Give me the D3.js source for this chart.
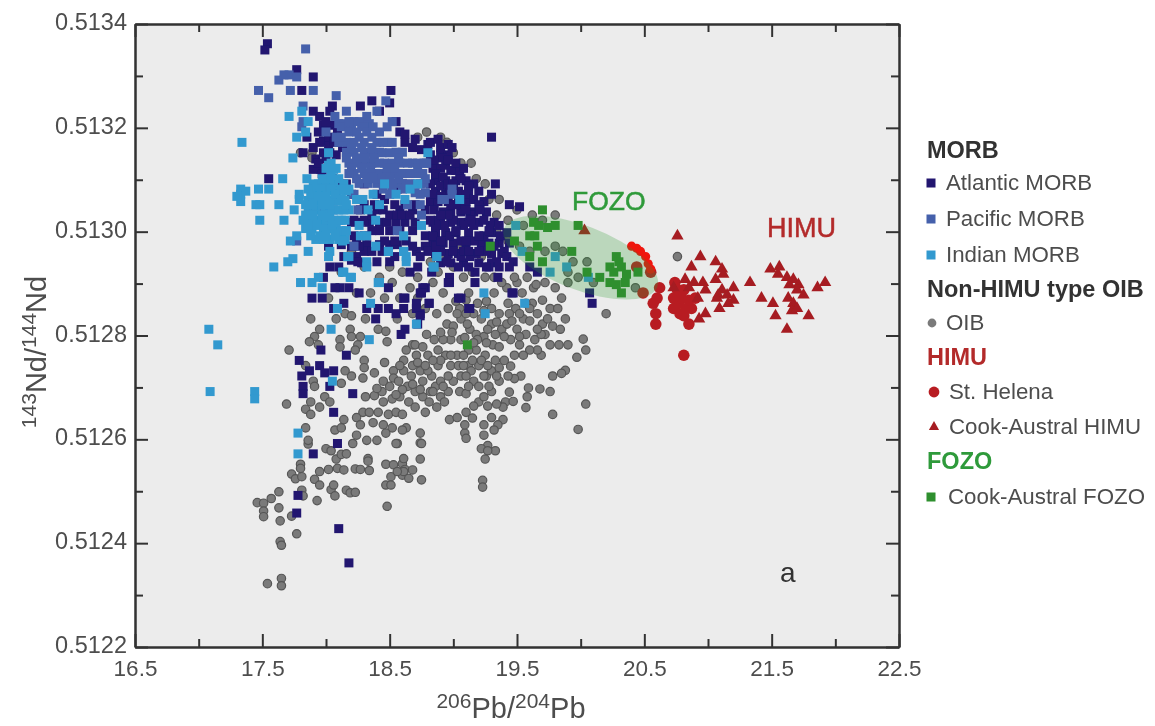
<!DOCTYPE html>
<html lang="en">

<head>
	<meta charset="UTF-8">
	<title>Pb-Nd isotope plot</title>
	<script src="https://d3js.org/d3.v7.min.js"></script>
	<style>
		body { margin: 0; background: #fff; }
		text { font-family: "Liberation Sans", Arial, sans-serif; }
	</style>
</head>

<body>
	<svg id="viz"></svg>

	<script>
		// Data as [206Pb/204Pb, 143Nd/144Nd] ---
		const oib = [
			[17.54,.512322],[17.65,.512332],[17.65,.512318],[17.64,.512443],[17.77,.512418],[17.64,.512403],[17.65,.512396],
			[17.46,.512478],[17.51,.512477],[17.51,.512462],[17.51,.512451],[17.57,.512486],[17.63,.512499],[17.63,.512468],[17.73,.512452],
			[17.81,.512502],[17.82,.512491],[17.93,.512482],[18.04,.512503],[18.07,.512491],[18.06,.512512],[18.16,.512502],[18.19,.512497],[18.23,.512498],
			[17.91,.512523],[17.95,.512512],[17.73,.512533],[17.76,.512524],[17.81,.512528],[17.8,.512552],[17.8,.512544],[17.95,.512538],
			[18.02,.512542],[18.09,.512544],[18.14,.512541],[18.23,.512543],[18.27,.512542],[18.34,.51254],[18.33,.512563],[18.08,.512562],[18.12,.512571],
			[18.47,.512552],[18.53,.512551],[18.6,.512553],[18.62,.512542],[18.51,.512528],[18.47,.512512],[18.51,.512512],[18.6,.512531],[18.68,.512541],
			[18.74,.512562],[18.75,.512522],[18.48,.512471],[18.56,.512592],[18.74,.512593],[17.86,.512591],
			[18.74,.512612],[18.61,.512563],[18.61,.512538],[18.65,.512525],[18.56,.512538],
			[20.2,.512842],[19.9,.512782],[20.02,.512793],[20.04,.512772],[19.97,.512758],[19.88,.512733],[19.85,.512727],[19.78,.512722],[19.68,.512697],
			[19.76,.512692],[20.04,.512668],[19.78,.512648],[19.98,.512619],[19.59,.512699],[19.58,.512682],[19.57,.512661],[19.69,.512762],[19.66,.512772],
			[19.53,.512722],[19.48,.512717],[19.43,.512722],[19.45,.512741],[19.44,.512691],[19.41,.512672],[19.47,.512673],[19.39,.512662],[19.39,.512638],
			[19.35,.512628],[19.32,.512618],[19.24,.512628],[19.24,.512608],[19.27,.512588],[19.22,.512582],[19.33,.512578],[19.27,.512578],[19.25,.512562],
			[19.23,.512521],[19.23,.512508],[19.09,.512612],[19.1,.512602],[18.97,.512638],[19.1,.512652],[19.03,.512642],[19.15,.512641],[19.09,.512628],
			[19.2,.512672],[19.27,.512664],[19.3,.512642],[19.34,.512668],[19.16,.512664],
			[17.88,.512832],[17.95,.512812],[17.91,.512798],[17.87,.512788],[17.94,.512782],[17.71,.512772],[17.69,.512668],
			[18.11,.512792],[18.11,.512778],[18.25,.512782],[18.23,.512772],[18.19,.512812],[18.2,.512798],[18.27,.512798],[18.31,.512832],[18.41,.512812],
			[18.47,.512808],[18.48,.512788],[18.3,.512752],[18.3,.512738],[18.29,.512718],[18.38,.512728],[18.46,.512748],[18.2,.512722],[18.12,.512708],[18.15,.512732],
			[17.84,.512658],[17.88,.512672],[17.88,.512648],[17.95,.512662],[17.99,.512682],[18.03,.512672],[17.84,.512622],[17.86,.512598],[17.84,.512742],[17.9,.512712],[17.91,.512702],
			[18.31,.512682],[18.38,.512684],[18.45,.512672],[18.41,.512652],[18.49,.512648],[18.55,.512652],[18.6,.512648],[18.29,.512652],[18.24,.512642],[18.27,.512628],
			[18.14,.512638],[18.07,.512618],[18.12,.512622],[18.24,.512608],[18.32,.512598],[18.4,.512598],[18.55,.512592],[18.63,.512622],[18.6,.512618],[18.21,.512592],
			[18,.512582],[18.04,.512578],[18.16,.512572],[18.33,.512558],[18.75,.512592],
			[18.53,.512732],[18.61,.512752],[18.53,.512718],[18.61,.512732],[18.68,.512742],[18.71,.512762],[18.8,.512762],[18.68,.512782],[18.79,.512802],[18.85,.512792],
			[18.45,.512628],[18.52,.512622],[18.47,.512612],[18.37,.512632],[18.34,.512652],[18.44,.512692],[18.5,.512702],[18.57,.512712],[18.58,.512682],[18.52,.512678],
			[18.64,.512702],[18.7,.512692],[18.65,.512672],[18.7,.512662],[18.76,.512682],[18.81,.512672],[18.76,.512712],[18.83,.512722],[18.88,.512742],[18.74,.512732],
			[18.8,.512732],[18.86,.512702],[18.9,.512682],[18.82,.512692],[18.87,.512662],[18.93,.512672],[18.7,.512782],[18.76,.512778],[18.63,.512772],[18.9,.512712],
			[18.94,.512762],[18.98,.512742],[19.03,.512762],[19,.512712],[19.06,.512722],[19.12,.512742],[18.96,.512692],[19.05,.512692],[19.1,.512688],[19.16,.512712],
			[19.24,.512682],[19.26,.512722],[19.2,.512742],[19.3,.512732],[19.36,.512712],[19.3,.512692],[19.33,.512752],[19.25,.512762],[19.18,.512772],[19.12,.512772],
			[19.06,.512792],[18.98,.512792],[18.92,.512792],[18.95,.512822],[19,.512818],[19.06,.512832],[19.13,.512812],[19.18,.512802],[19.24,.512798],[19.31,.512782],
			[19.36,.512778],[19.38,.512812],[19.3,.512822],[19.22,.512832],[19.16,.512842],[19.05,.512852],[18.96,.512852],[19.1,.512868],[19.19,.512862],[19.3,.512852],
			[19.36,.512842],[19.42,.512822],[19.45,.512792],[19.52,.512782],[19.6,.512772],[19.5,.512812],[19.57,.512802],[19.64,.512792],[19.72,.512802],[19.76,.512782],
			[19.55,.512832],[19.6,.512828],[19.7,.512822],[19.78,.512818],[19.84,.512812],[19.88,.512832],[19.62,.512862],[19.7,.512868],[19.76,.512852],[19.49,.512852],
			[19.43,.512862],[19.54,.512882],[19.63,.512892],[19.72,.512902],[19.8,.512892],[19.85,.512872],[19.42,.512892],[19.5,.512902],[19.58,.512912],[19.32,.512882],
			[19.25,.512912],[19.15,.512922],[19.08,.512912],[19,.512932],[18.92,.512882],[18.84,.512902],[18.87,.512842],[18.78,.512852],[18.68,.512842],[18.56,.512832],
			[18.58,.512872],[18.66,.512892],[18.46,.512872],[18.42,.512912],[18.35,.512882],[18.24,.512882],[18.15,.512842],[18.2,.512838],[18.08,.512832],[18.02,.512872],
			[18.52,.512902],[18.6,.512922],[18.72,.512912],[18.82,.512942],[18.92,.512952],[19.03,.512972],[19.22,.512952],[19.3,.512972],[19.34,.513002],[19.43,.512982],
			[19.52,.512972],[19.6,.512962],[19.72,.512962],[19.8,.512972],[19.86,.512962],[19.55,.513012],[19.62,.513032],[19.7,.513022],[19.8,.513032],[19.5,.513042],
			[19.43,.513022],[19.34,.513032],[19.28,.513062],[19.36,.513062],[19.25,.513092],[19.18,.513102],[19.14,.513132],[19.06,.513132],[19,.513152],[18.9,.513182],[18.95,.513172],
			[19.9,.512922],[19.98,.512912],[19.9,.512902],[20.1,.512902],[20.43,.512892],[20.05,.512942],[19.94,.512942],
			[20.76,.512952],[18.72,.513182],[18.79,.513192],[17.8,.513152],[17.89,.513152],[17.89,.513142],[18.2,.512962],[18.3,.512932],[18.12,.512922],[18.5,.512932],
			[19.03,.512842],[19.11,.512822],[19.19,.512792],[19.27,.512812],[19.33,.512802],[19.08,.512762],[19.22,.512752],[19.14,.512732],[19.04,.512742],[18.96,.512722],
			[18.88,.512772],[18.92,.512702],[18.84,.512692],[18.78,.512652],[18.67,.512722],[18.58,.512742],[18.45,.512712],[18.4,.512698],[19.4,.512752],[19.36,.512738],
			[19.2,.512702],[19.12,.512702],[19.28,.512702],[19.44,.512842],[19.52,.512842],[19.66,.512842],[19.82,.512852],[19.57,.512862],[19.69,.512802],[19.83,.512782],
			[18.99,.512806],[19.09,.512796],[19.16,.512786],[19.26,.512786],[19.02,.512866],[18.9,.512806],[19.1,.512842],[19.24,.512848],[19.34,.512826],[19.15,.512752],
			[19.27,.512742],[19.34,.512722],[19.1,.512722],[18.98,.512762],[19.08,.512742],[18.9,.512752],[18.74,.512696],[18.68,.512706],[18.6,.512696],[18.55,.512686],
			[18.72,.512748],[18.78,.512742],[18.84,.512752],[19.24,.512722],[19.4,.512798],[19.48,.512762],[19.55,.512762],[19.6,.512852],[19.46,.512828],[19.52,.512798],
			[19.66,.512812],[19.74,.512832],[19.65,.512898],[19.48,.512912],[19.38,.512902],[19.32,.512912],[19.26,.512866],[19.12,.512882],[18.88,.512922],[18.72,.512872]
		];
		const atlanticCore = [
			[17.98,.513205],[18.04,.513205],[17.98,.513175],[18.02,.513168],[17.92,.51314],[18,.51314],[17.9,.51312],[17.96,.51312],
			[18.82,.513148],[18.9,.513148],[18.96,.513148],[18.84,.513122],[18.9,.513122],[19.02,.513118],[18.86,.513098],[18.94,.513098],[19.02,.513098],[19.1,.513098],
			[18.86,.513078],[18.94,.513078],[19.04,.513078],[19.12,.513078],[19.2,.513078],[18.82,.513058],[18.88,.513058],[18.96,.513058],[19.04,.513058],[19.1,.513058],[19.24,.513058],
			[18.92,.513038],[18.98,.513038],[19.06,.513038],[19.16,.513038],[19.26,.513038],[18.84,.513018],[18.9,.513018],[18.98,.513018],[19.06,.513018],[19.12,.513018],[19.2,.513018],[19.32,.513018],
			[18.86,.512998],[18.94,.512998],[19.02,.512998],[19.12,.512998],[19.3,.512998],[19.42,.512998],[18.84,.512978],[18.92,.512978],[19,.512978],[19.1,.512978],[19.22,.512978],[19.28,.512978],[19.36,.512978],[19.44,.512978],
			[18.86,.512958],[18.96,.512958],[19.04,.512958],[19.18,.512958],[19.3,.512958],[19.38,.512958],[18.9,.51294],[18.98,.51294],[19.08,.51294],[19.2,.51294],[19.3,.51294],
			[18.2,.513018],[18.27,.513018],[18.34,.513018],[18.42,.513018],[18.48,.513018],[18.55,.513018],[18.62,.513018],[18.7,.513018],[18.32,.512975],[18.42,.512975],[18.5,.512975],[18.56,.512975],
			[18.27,.513042],[18.4,.513042],[18.58,.513042],[18.68,.513042],[18.24,.512978],[18.2,.512945],[18.28,.51294],[18.12,.512975]
		];
		const atlantic = atlanticCore.concat([
			[17.54,.513362],[17.52,.51335],[17.77,.513312],[17.9,.513298],[17.81,.513272],[18.51,.513272],[18.36,.513252],[18.27,.513242],[18.05,.513242],[18.5,.513248],
			[17.85,.513182],[17.82,.513152],[17.55,.513102],[19.3,.513182],[17.9,.513232],[17.95,.513222],[18,.513212],[18.03,.513232],[18.42,.513232],[18.55,.513212],
			[17.94,.513192],[17.95,.513172],[17.98,.513152],[17.94,.513132],[17.97,.513112],[18.58,.513192],[18.62,.513172],[18.68,.513162],[18.75,.513158],[18.8,.513168],
			[18.9,.513162],[18.96,.513168],[18.99,.513162],[18.91,.513142],[18.85,.513138],[18.94,.513128],[18.98,.513118],[19.05,.513108],[18.86,.513112],[18.92,.513105],
			[19.16,.513092],[19.06,.513102],[19.33,.513092],[19.3,.513072],[19.44,.513052],[19.52,.513048],[19.12,.513088],[18.82,.513092],[18.9,.513088],[18.96,.513092],
			[19,.513082],[18.84,.513072],[18.9,.513068],[19.1,.513072],[19.16,.513062],[19.2,.513052],[19.21,.513042],[19.13,.513032],[19.06,.513042],[18.98,.513052],
			[18.93,.513062],[18.85,.513042],[18.88,.513022],[18.93,.513012],[19,.513022],[19.08,.513012],[19.16,.513012],[19.24,.512992],[19.36,.513012],[19.37,.512992],
			[19.4,.512962],[19.42,.512952],[19.47,.512942],[19.34,.512942],[19.13,.512952],[19.06,.512952],[18.97,.512992],[19.06,.512982],[19.16,.512982],[19.08,.512962],
			[19.28,.512932],[19.17,.512922],[18.97,.512912],[19.17,.512902],[19.36,.512932],[19.44,.512932],[19.06,.512872],[19.13,.512852],[19.47,.512882],[19.66,.512922],
			[19.6,.512932],[20.09,.512862],[20.07,.512882],[18.97,.512902],[19.35,.512912],[19.04,.512872],[19.12,.512852],[19.46,.512882],[19.29,.513012],[19.32,.512972],[19.26,.512962],
			[18.78,.512892],[18.74,.512882],[18.81,.512862],[18.71,.512862],[18.74,.512842],[18.61,.512852],[18.62,.512872],[18.62,.512812],[18.59,.512802],[18.72,.512822],
			[17.89,.512872],[17.97,.512872],[17.96,.512772],[17.79,.512752],[18.16,.512762],[17.87,.512732],[17.95,.512742],[18.06,.512732],[17.99,.512728],[17.81,.512722],
			[17.82,.512702],[17.82,.512688],[18.03,.512702],[18.21,.512688],[18.06,.512652],[18.09,.512592],[17.9,.512572],[17.78,.512492],
			[17.77,.512458],[18.1,.512428],[18.18,.512362],[18.49,.512892],[18.61,.512872],[18.76,.512892],[18.75,.512882],[18.81,.512862],[18.71,.512852],[18.74,.512838],
			[18.55,.512842],[18.49,.512852],[18.41,.512852],[18.39,.512832],[18.32,.512852],[18.14,.512862],[18.06,.512852],[18.26,.512882],
			[18.11,.512892],[18.18,.512892],[18.07,.512892],[17.98,.512912],[18.03,.512932],[18.24,.512952],[18.25,.512942],[18.66,.512922],[18.72,.512932],[18.83,.512922],
			[18.71,.512962],[18.78,.512972],[18.88,.512982],[18.96,.512902],[18.02,.512972],[18.63,.512982],[18.1,.512932],[18.14,.512952],[18.2,.512972],[18.3,.512962],
			[18.4,.512942],[18.5,.512942],[18.1,.512992],[18.22,.513022],[18.3,.513022],[18.36,.513032],[18.45,.513042],[18.5,.513032],[18.56,.513032],[18.3,.512992],
			[18.42,.513002],[18.5,.513002],[18.58,.513002],[18.46,.512982],[18.54,.512982],[18.78,.512992],[18.8,.512962],[18.9,.512962],[18.95,.512942],[18.2,.513072],
			[18.3,.513092],[18.4,.513072],[18.56,.513082],[18.16,.513092],[18.08,.513092],[17.9,.513162],[18.05,.513102],[18.78,.513042],[18.84,.512992],[18.68,.513002],
			[18.02,.513182],[18.06,.513172],[18.09,.513192],[18.03,.513152],[18.08,.513148],[18.13,.513162],[18.62,.513188],[18.7,.513178],[18.82,.513172],[18.88,.513178],
			[18.96,.513138],[19.02,.513132],[19.08,.513122],[19.0,.513092],[19.1,.513042],[19.02,.513052],[19.14,.513022],[19.24,.513022],[19.28,.513002],[19.2,.512992],
			[19.1,.512982],[19.02,.513002],[18.96,.513032],[18.9,.513032],[18.86,.513012],[18.82,.513022],[18.86,.512972],[18.9,.512982],[19.0,.512962],[19.12,.512962],
			[19.2,.512962],[19.26,.512932],[19.12,.512932],[19.04,.512932],[18.22,.512992],[18.36,.513002],[18.26,.512972],[18.36,.512962],[18.44,.512962],[18.54,.512952],
			[18.6,.513032],[18.66,.513032],[18.7,.513052],[18.62,.513052],[18.68,.512972],[18.74,.512952],[18.3,.513052],[18.38,.513052],[18.46,.513062],[18.54,.513052]
		]);
		const pacificCore = [
			[18.1,.513208],[18.14,.513208],[18.2,.513208],[18.28,.513208],[18.34,.513208],[18.1,.513172],[18.16,.513172],[18.22,.513172],[18.3,.513172],[18.4,.513172],[18.48,.513172],
			[18.16,.513153],[18.22,.513153],[18.3,.513153],[18.36,.513153],[18.42,.513153],[18.55,.513153],[18.6,.513153],
			[18.18,.513132],[18.24,.513132],[18.3,.513132],[18.36,.513132],[18.46,.513132],[18.52,.513132],[18.58,.513132],[18.68,.513132],[18.72,.513132],
			[18.22,.513112],[18.3,.513112],[18.36,.513112],[18.42,.513112],[18.48,.513112],[18.54,.513112],[18.7,.513112],[18.76,.513112],
			[18.26,.513093],[18.33,.513093],[18.4,.513093],[18.47,.513093],[18.54,.513093],[18.6,.513093],[18.77,.513093],[18.7,.513075],[18.78,.513075]
		];
		const pacific = pacificCore.concat([
			[17.84,.513352],[17.47,.513272],[17.55,.513258],[17.63,.513292],[17.67,.513302],[17.71,.513302],[17.77,.513298],[17.72,.513272],[17.9,.513272],[17.82,.513242],[17.81,.513202],
			[18.08,.513262],[18.16,.513232],[18.4,.513232],[18.47,.513252],[18.32,.513222],[18.07,.513222],[18,.513192],[18.12,.513202],[18.12,.513182],[18.18,.513192],
			[18.22,.513212],[18.26,.513212],[18.3,.513202],[18.36,.513182],[18.26,.513182],[18.42,.513192],[18.48,.513202],[18.52,.513212],[18.2,.513162],[18.28,.513162],[18.36,.513162],
			[18.08,.513182],[18.18,.513212],[18.32,.513192],[18.24,.513192],[18.37,.513202],[18.45,.513172],[18.52,.513172],[18.16,.513142],[18.24,.513142],[18.31,.513142],[18.38,.513142],[18.44,.513152],[18.5,.513152],[18.57,.513142],[18.64,.513132],
			[18.2,.513122],[18.28,.513122],[18.35,.513122],[18.42,.513132],[18.48,.513122],[18.54,.513122],[18.6,.513112],[18.66,.513112],[18.72,.513122],[18.77,.513132],[18.79,.513132],
			[18.32,.513102],[18.38,.513102],[18.44,.513102],[18.5,.513102],[18.57,.513102],[18.63,.513092],[18.7,.513092],[18.74,.513092],[18.78,.513102],[18.45,.513082],[18.6,.513082],
			[18.24,.513102],[18.18,.513112],[18.52,.513088],[18.66,.513092],[18.74,.513072],[18.74,.513052],[18.75,.513032],[17.94,.513042],[18.06,.513042],[18,.513012],[18.22,.513072],[18.25,.513042],[18.5,.513072],[18.64,.513052],
			[18.56,.513002],[18.22,.512972],[18.99,.513082],[18.91,.513062],[18.79,.513132],[17.77,.512982],[17.82,.513212],[18.99,.513072],[18.93,.513062]
		]);
		const indianCore = [
			[18.02,.513128],[18.06,.51312],[17.94,.513092],[18,.513092],[18.06,.513092],[18.14,.513092],[17.9,.513078],[17.98,.513078],[18.02,.513078],[18.09,.513078],[18.16,.513078],
			[17.86,.51306],[17.92,.51306],[17.98,.51306],[18.04,.51306],[18.09,.51306],[18.15,.51306],[17.86,.513042],[17.92,.513042],[17.99,.513042],[18.05,.513042],[18.11,.513042],[18.18,.513042],
			[17.88,.513022],[17.94,.513022],[18,.513022],[18.06,.513022],[18.12,.513022],[17.84,.513006],[17.89,.513006],[17.98,.513006],[18.02,.513006],[18.08,.513006],
			[17.92,.512985],[17.98,.512985],[18.03,.512985],[18.1,.512985],[18.15,.512985]
		];
		const indian = indianCore.concat([
			[17.34,.513172],[17.71,.513222],[17.77,.513182],[17.84,.513192],[17.74,.513142],[17.85,.513102],[17.66,.513102],[17.55,.513082],[17.47,.513082],
			[17.33,.513082],[17.33,.513072],[17.33,.513058],[17.37,.513078],[17.3,.513068],[17.45,.513052],[17.48,.513052],[17.63,.513052],[17.48,.513022],[17.67,.513022],
			[17.75,.513042],[17.79,.513072],[17.79,.513062],[17.86,.513212],[17.81,.513232],[17.77,.512992],[17.72,.512982],
			[18.02,.513152],[18.04,.513132],[18.08,.513122],[18,.513122],[18.1,.513102],[18.03,.513102],[17.97,.513102],[18.12,.513082],[18.18,.513082],[17.9,.513092],
			[17.96,.513082],[18.04,.513082],[17.88,.513072],[17.94,.513068],[18,.513068],[18.07,.513072],[18.12,.513062],[17.84,.513052],[17.9,.513052],[17.97,.513052],[18.03,.513052],
			[18.1,.513042],[18.14,.513042],[17.84,.513032],[17.9,.513032],[17.97,.513032],[18.03,.513028],[18.1,.513022],[18.15,.513022],[17.82,.513022],[17.86,.513012],[17.93,.513012],
			[18.05,.513012],[18.12,.513002],[18.16,.513002],[17.88,.512992],[17.95,.512992],[18,.512992],[18.07,.512992],[18.13,.512982],[18.04,.513108],[17.86,.513082],[18.16,.513052],
			[18.26,.513012],[18.39,.513022],[18.27,.512992],[18.32,.512992],[18.39,.512972],[18.49,.512962],[18.61,.512992],[18.61,.512962],[18.63,.512952],[18.75,.513012],
			[18.87,.512952],[18.84,.512932],[18.41,.512902],[18.32,.512942],[18.14,.512922],[18.19,.512912],[18.18,.512952],[18.03,.512962],[19.05,.513062],
			[18.8,.513152],[18.62,.513062],[18.55,.513072],[18.37,.513072],[18.29,.513062],[18.42,.513052],[18.66,.513082],[18.72,.513092],[18.46,.513092],[18.33,.513042],[18.24,.513062],
			[17.08,.512812],[17.15,.512782],[17.09,.512692],[17.44,.512692],[17.44,.512678],[17.59,.512932],[17.7,.512942],[17.74,.512948],[17.8,.512902],[17.89,.512902],[17.94,.512912],
			[17.97,.512892],[18.04,.512812],[18.09,.512852],[18.34,.512792],[18.35,.512862],[18.05,.512712],[18.71,.512822],[17.78,.512612],[17.78,.512572],[18.42,.512902],
			[18.13,.512922],[18.2,.512912],[18.32,.512932],[18.02,.512952],[18.17,.512952],[18.49,.512962],[18.61,.512962],[18.63,.512942],[18.85,.512932],[18.87,.512952],[17.86,.512962],
			[19.24,.512882],[19.25,.512842],[19.56,.512862],[19.49,.513012],[20.06,.512912],[19.76,.512922],[19.8,.512952],[19.89,.512932],[19.54,.512962]
		]);
		const himuTriangles = [
			[20.76,.512992],[20.94,.512952],[20.87,.512932],[21.06,.512942],[21.11,.512928],[21.12,.512918],[21.06,.512908],[20.96,.512902],[20.73,.512892],[20.82,.512908],
			[20.89,.512902],[20.85,.512892],[20.98,.512888],[21.11,.512888],[21.15,.512878],[21.08,.512878],[21.2,.512892],[20.92,.512872],[21.2,.512868],[21.16,.512862],
			[21.07,.512872],[21.09,.512852],[20.98,.512842],[20.93,.512832],[21.33,.512902],[21.42,.512872],[21.51,.512862],[21.53,.512838],[21.49,.512928],[21.56,.512932],
			[21.55,.512918],[21.62,.512912],[21.67,.512908],[21.71,.512898],[21.64,.512898],[21.7,.512888],[21.75,.512878],[21.63,.512872],[21.67,.512862],[21.66,.512848],
			[21.7,.512852],[21.79,.512838],[21.62,.512812],[21.86,.512892],[21.92,.512902],[20.03,.513002]
		];
		const stHelena = [
			[20.81,.512762],[20.59,.512822],[20.59,.512842],[20.57,.512862],[20.6,.512872],[20.62,.512892],[20.73,.512852],[20.77,.512862],[20.74,.512902],[20.76,.512888],
			[20.78,.512842],[20.81,.512838],[20.85,.512822],[20.87,.512852],[20.9,.512872],[20.83,.512852],[20.79,.512872],[20.81,.512888],[20.85,.512868],[20.73,.512872],
			[20.44,.512932],[20.55,.512922],[20.49,.512882]
		];
		const stHelenaEdge = [[20.4,.512972],[20.44,.512968],[20.47,.512962],[20.51,.512952],[20.53,.512938],[20.55,.512928]];
		const cookFozo = [
			[19.7,.513042],[19.98,.513012],[19.29,.512972],[19.48,.512982],[19.6,.512992],[19.67,.513012],[19.74,.513008],[19.8,.513012],[19.63,.513018],[19.66,.512972],
			[19.6,.512952],[19.7,.512942],[19.93,.512962],[20.05,.512922],[20.15,.512912],[20.23,.512932],[20.28,.512952],[20.26,.512922],[20.32,.512932],[20.23,.512902],
			[20.28,.512898],[20.35,.512902],[20.32,.512882],[20.45,.512922],[20.36,.512918],[20.3,.512942],[19.11,.512782],[19.64,.512992]
		];
		const fozoField = [20, .51295];
		const xMajor = [16.5, 17.5, 18.5, 19.5, 20.5, 21.5, 22.5];
		const xMinor = [17, 18, 19, 20, 21, 22];
		const yMajor = [.5122, .5124, .5126, .5128, .513, .5132, .5134];
		const yMinor = [.5123, .5125, .5127, .5129, .5131, .5133];

		// Chart container dimensions ---
		const svgWidth = 1155, svgHeight = 726;
		const plot = { left: 135, right: 899, top: 24, bottom: 647 };
		const textColor = '#4d4d4d';
		const squareSize = 9;
		const colors = {
			atlantic: '#20166f', pacific: '#4560ab', indian: '#3199cf',
			oib: '#7a7a7a', oibStroke: '#565656',
			red: '#b81f22', bright: '#ef1410', tri: '#a61e20', green: '#2f8f2f'
		};

		const svg = d3.select('#viz').attr('width', svgWidth).attr('height', svgHeight);

		// soft edges, the source is a resampled image
		svg.append('defs').append('filter').attr('id', 'soft')
			.attr('x', 0).attr('y', 0).attr('width', '100%').attr('height', '100%')
			.append('feGaussianBlur').attr('stdDeviation', 0.6);

		const root = svg.append('g').attr('filter', 'url(#soft)');

		const x = d3.scaleLinear().domain([16.5, 22.5]).range([plot.left, plot.right]);
		const y = d3.scaleLinear().domain([.5122, .5134]).range([plot.bottom, plot.top]);

		root.append('rect')
			.attr('x', plot.left).attr('y', plot.top)
			.attr('width', plot.right - plot.left).attr('height', plot.bottom - plot.top)
			.attr('fill', '#ececec');

		// Marks ---
		function squares(data, color, size) {
			root.append('g').selectAll('rect').data(data).join('rect')
				.attr('x', d => x(d[0]) - size / 2)
				.attr('y', d => y(d[1]) - size / 2)
				.attr('width', size).attr('height', size)
				.attr('fill', color);
		}
		function dots(data, color, r, stroke) {
			root.append('g').selectAll('circle').data(data).join('circle')
				.attr('cx', d => x(d[0])).attr('cy', d => y(d[1])).attr('r', r)
				.attr('fill', color)
				.attr('stroke', stroke || 'none').attr('stroke-width', 1.2);
		}
		const triangle = d3.symbol().type(d3.symbolTriangle).size(66);

		dots(oib, colors.oib, 4.2, colors.oibStroke);
		squares(atlantic, colors.atlantic, squareSize);
		squares(pacific, colors.pacific, squareSize);
		squares(indian, colors.indian, squareSize);
		dots(stHelena, colors.red, 5.8);
		dots(stHelenaEdge, colors.bright, 4.6);
		root.append('g').selectAll('path').data(himuTriangles).join('path')
			.attr('d', triangle)
			.attr('transform', d => `translate(${x(d[0])},${y(d[1])})`)
			.attr('fill', colors.tri);

		// FOZO field sits over everything but its own squares
		root.append('ellipse')
			.attr('rx', 82).attr('ry', 32)
			.attr('transform', `translate(${x(fozoField[0])},${y(fozoField[1])}) rotate(21)`)
			.attr('fill', '#2f9a33').attr('fill-opacity', 0.26);
		squares(cookFozo, colors.green, squareSize);

		// Axes, ticks point inwards on all four sides ---
		function styleAxis(g) {
			g.selectAll('.domain').attr('stroke', '#333').attr('stroke-width', 2);
			g.selectAll('line').attr('stroke', '#333').attr('stroke-width', 2);
			g.selectAll('text').attr('fill', textColor)
				.style('font-family', '"Liberation Sans", Arial, sans-serif');
		}
		const at = (sel, tx, ty) => sel.attr('transform', `translate(${tx},${ty})`);
		const axes = root.append('g');
		const sides = [
			[d3.axisBottom(x), 0, plot.bottom, xMajor, xMinor, d => d.toFixed(1), 13, '22.5px', '0.71em'],
			[d3.axisTop(x), 0, plot.top, xMajor, xMinor, () => '', 0, '22px', '0em'],
			[d3.axisLeft(y), plot.left, 0, yMajor, yMinor, d => d.toFixed(4), 8, '23.5px', '0.24em'],
			[d3.axisRight(y), plot.right, 0, yMajor, yMinor, () => '', 0, '22px', '0em']
		];
		sides.forEach(([axis, tx, ty, major, minor, fmt, pad, size, dy]) => {
			axes.append('g').call(at, tx, ty)
				.call(axis.tickValues(major).tickSize(-13).tickSizeOuter(0).tickPadding(pad).tickFormat(fmt))
				.call(styleAxis)
				.call(g => g.selectAll('text').style('font-size', size).attr('dy', dy));
			axes.append('g').call(at, tx, ty)
				.call(axis.tickValues(minor).tickSize(-8).tickSizeOuter(0).tickFormat(''))
				.call(styleAxis);
		});

		// Axis titles ---
		function isotopeLabel(sel, a, b, c, d) {
			const sup = t => sel.append('tspan').attr('dy', -10).style('font-size', '21px').text(t);
			const base = t => sel.append('tspan').attr('dy', 10).style('font-size', '29px').text(t);
			sup(a); base(b); sup(c); base(d);
		}
		root.append('text').attr('x', 511).attr('y', 718).attr('text-anchor', 'middle').attr('fill', textColor)
			.call(isotopeLabel, '206', 'Pb/', '204', 'Pb');
		root.append('text').attr('transform', 'translate(46,352) rotate(-90)').attr('text-anchor', 'middle').attr('fill', textColor)
			.call(isotopeLabel, '143', 'Nd/', '144', 'Nd');

		// Labels in the plot ---
		root.append('text').attr('x', 572).attr('y', 210).attr('fill', '#2f9a3a').attr('stroke', '#2f9a3a').attr('stroke-width', 0.5).style('font-size', '26.5px').text('FOZO');
		root.append('text').attr('x', 767).attr('y', 237).attr('fill', '#b32a2a').attr('stroke', '#b32a2a').attr('stroke-width', 0.5).style('font-size', '27px').text('HIMU');
		root.append('text').attr('x', 780).attr('y', 582).attr('fill', '#333').style('font-size', '28px').text('a');

		// Legend ---
		const legendLabels = ['MORB', 'Atlantic MORB', 'Pacific MORB', 'Indian MORB', 'Non-HIMU type OIB', 'OIB', 'HIMU', 'St. Helena', 'Cook-Austral HIMU', 'FOZO', 'Cook-Austral FOZO'];
		const legendY = [158, 190, 226, 262, 297, 330, 365, 399, 434, 469, 504];
		const legendX = [927, 946, 946, 946, 927, 946, 927, 949, 949, 927, 948];
		const legendKeys = [null, 'atlantic', 'pacific', 'indian', null, 'oib', null, 'red', 'tri', null, 'green'];
		const headColors = { MORB: '#333', 'Non-HIMU type OIB': '#333', HIMU: '#b32a2a', FOZO: '#2f9a3a' };

		legendLabels.forEach((label, i) => {
			const key = legendKeys[i], ly = legendY[i];
			root.append('text').attr('x', legendX[i]).attr('y', ly)
				.attr('fill', key ? textColor : headColors[label])
				.style('font-size', key ? '22.3px' : '23.5px').style('font-weight', key ? 400 : 700)
				.text(label);
			if (!key) return;
			const cy = ly - 7, cx = 931;
			if (key === 'oib') root.append('circle').attr('cx', cx + 1).attr('cy', cy).attr('r', 4.4).attr('fill', colors.oib);
			else if (key === 'red') root.append('circle').attr('cx', cx + 3).attr('cy', cy).attr('r', 5.4).attr('fill', colors.red);
			else if (key === 'tri') root.append('path').attr('d', d3.symbol().type(d3.symbolTriangle).size(45)).attr('transform', `translate(${cx + 3},${cy})`).attr('fill', colors.tri);
			else root.append('rect').attr('x', cx - 4.5).attr('y', cy - 4.5).attr('width', 9).attr('height', 9).attr('fill', colors[key]);
		});
	</script>
</body>

</html>
